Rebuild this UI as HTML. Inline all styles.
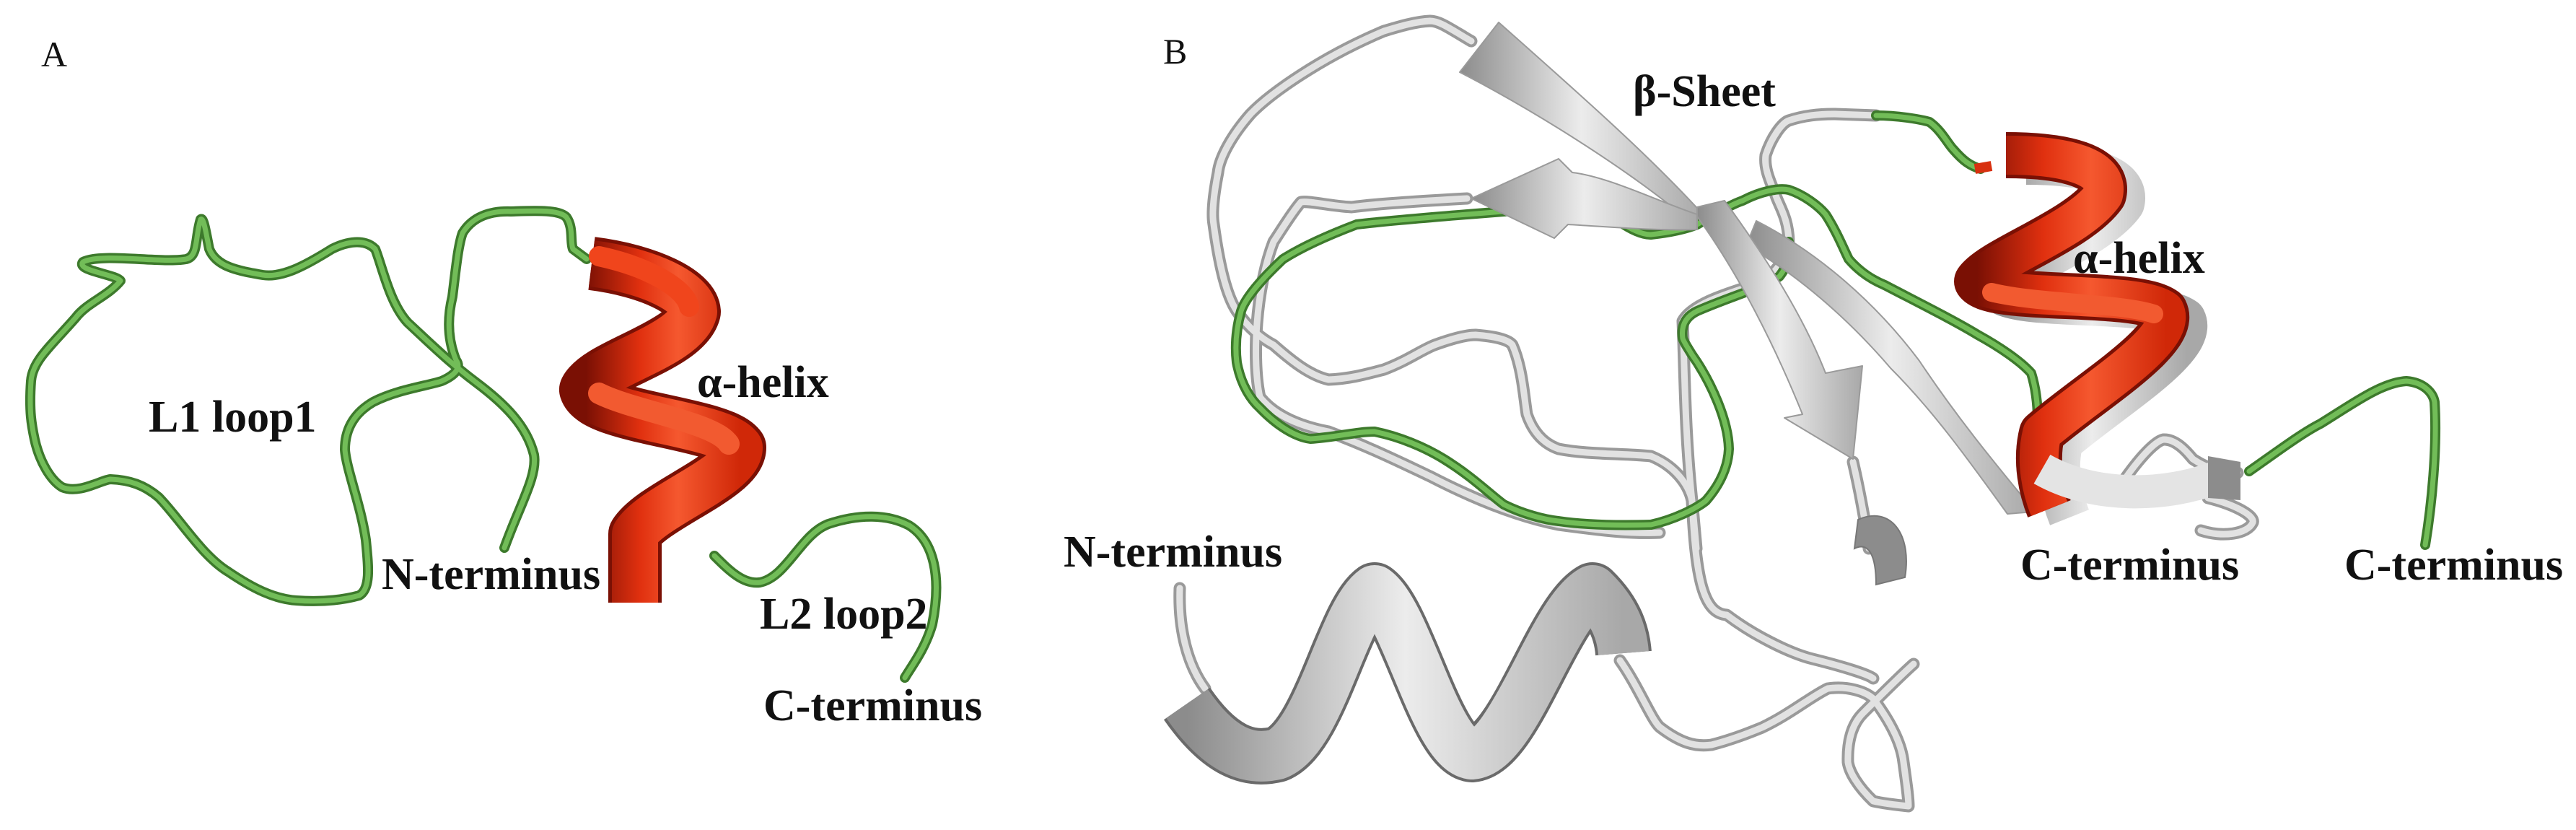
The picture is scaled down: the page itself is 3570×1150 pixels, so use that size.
<!DOCTYPE html>
<html><head><meta charset="utf-8"><style>
html,body{margin:0;padding:0;background:#fff}
svg{display:block}
text{font-family:"Liberation Serif",serif;fill:#111}
.b{font-weight:bold;font-size:62px}
</style></head><body>
<svg width="3570" height="1150" viewBox="0 0 3570 1150" xmlns="http://www.w3.org/2000/svg">
<defs>
<linearGradient id="red" x1="0" y1="0" x2="1" y2="0">
<stop offset="0" stop-color="#7a1004"/><stop offset="0.35" stop-color="#e0300f"/><stop offset="0.6" stop-color="#f5582f"/><stop offset="1" stop-color="#d02808"/></linearGradient>
<linearGradient id="gray" x1="0" y1="0" x2="1" y2="0">
<stop offset="0" stop-color="#8c8c8c"/><stop offset="0.5" stop-color="#ececec"/><stop offset="1" stop-color="#a8a8a8"/></linearGradient>
<path id="ga" d="M699,759 C720,700 745,660 740,630 C730,590 700,560 660,530 C620,500 590,470 565,447 C540,420 530,370 520,345 C505,330 480,335 460,345 C420,370 390,385 364,381 C330,375 300,370 290,345 C285,320 282,300 278,304 C270,330 275,355 258,359 C220,365 140,350 115,363 C105,375 160,380 167,389 C150,410 120,420 105,440 C70,480 45,500 43,528 C40,570 44,590 48,609 C55,640 70,665 86,675 C110,685 140,665 153,664 C180,665 200,672 220,689 C250,720 280,770 316,792 C350,815 380,830 411,832 C450,835 480,830 498,825 C515,815 510,780 507,748 C500,700 480,650 478,623 C478,590 495,570 517,557 C550,540 590,535 612,528 C630,520 640,510 632,499 C620,470 620,440 627,411 C632,370 635,340 641,323 C655,300 680,292 708,293 C740,292 775,290 785,301 C795,315 790,335 794,345 L813,359"/>
<path id="gb" d="M990,770 C1010,790 1030,810 1053,807 C1090,800 1110,740 1148,726 C1190,712 1230,712 1260,728 C1295,750 1305,800 1292,865 C1282,900 1262,925 1254,939"/>
<path id="t1" d="M2039,57 C2010,40 1995,29 1982,29 C1960,30 1935,38 1918,43 C1830,80 1760,130 1733,158 C1705,190 1690,220 1688,239 C1680,280 1680,300 1682,311 C1690,370 1700,410 1714,431 C1730,455 1750,470 1765,478 C1790,500 1815,520 1841,526 C1870,525 1895,518 1918,512 C1950,500 1970,485 1988,478 C2010,470 2030,464 2045,464 C2070,466 2090,470 2096,478 C2110,510 2112,550 2116,574 C2125,600 2140,615 2160,622 C2200,630 2250,628 2288,632 C2320,645 2340,670 2345,694 L2351,760"/>
<path id="t2" d="M2033,275 C1980,278 1910,282 1873,287 C1840,285 1815,278 1803,280 C1790,295 1775,320 1765,335 C1740,400 1735,500 1746,550 C1770,580 1810,592 1841,598 C1900,620 1950,645 1982,660 C2040,690 2100,715 2160,727 C2220,735 2260,740 2300,738"/>
<path id="t3" d="M2332,445 C2345,420 2400,405 2430,395 C2460,383 2475,360 2479,335 C2478,300 2465,285 2460,268 C2450,245 2445,230 2447,215 C2455,190 2470,170 2479,167 C2500,160 2520,158 2543,158 L2600,160"/>
<path id="t4" d="M2332,445 C2335,520 2335,600 2345,694 C2350,800 2360,850 2393,852 C2430,880 2480,905 2512,913 C2560,925 2590,935 2596,940"/>
<path id="t5" d="M2245,915 C2270,950 2290,1000 2301,1008 C2330,1030 2350,1035 2372,1032 C2400,1025 2425,1015 2442,1008 C2480,990 2510,965 2533,954 C2560,950 2585,958 2596,968 C2620,1000 2635,1030 2638,1056 C2642,1085 2645,1105 2645,1117 C2625,1115 2605,1112 2596,1110 C2575,1090 2563,1070 2561,1056 C2560,1020 2570,1000 2582,988 C2610,960 2635,935 2652,920"/>
<path id="t6" d="M1635,815 C1633,870 1645,920 1670,954"/>
<path id="t7" d="M2568,640 C2575,670 2585,720 2590,760"/>
<path id="t8" d="M2935,678 C2960,640 2985,612 2998,609 C3015,608 3030,625 3039,636 C3060,650 3080,655 3101,655"/>
<path id="t9" d="M3060,690 C3100,700 3125,715 3122,724 C3115,740 3080,745 3050,735"/>
<path id="gr1" d="M2122,258 C2115,280 2105,290 2096,292 C2020,298 1930,305 1880,311 C1830,330 1800,345 1778,359 C1745,390 1725,415 1720,431 C1712,460 1712,485 1714,502 C1720,535 1735,555 1746,565 C1770,590 1795,605 1816,608 C1850,606 1880,598 1905,598 C1940,605 1975,620 2001,636 C2040,660 2065,685 2084,699 C2110,712 2140,720 2160,722 C2200,728 2250,728 2288,727 C2320,720 2350,705 2364,694 C2385,670 2395,645 2396,622 C2395,580 2370,530 2352,502 C2340,485 2332,470 2332,469 C2330,455 2333,440 2352,431 C2400,410 2440,400 2466,383 C2480,365 2482,350 2479,335"/>
<path id="gr2" d="M2600,160 C2630,160 2660,165 2674,169 C2690,180 2700,200 2707,207 C2720,222 2730,230 2745,234"/>
<path id="gr3" d="M2243,306 C2260,318 2275,325 2288,325 C2315,322 2335,318 2352,311 C2380,295 2400,283 2415,278 C2440,265 2465,260 2479,263 C2500,270 2520,285 2530,297 C2545,320 2555,345 2562,359 C2580,380 2600,390 2612,395"/>
<path id="gr5" d="M2612,395 C2660,420 2710,445 2741,464 C2770,480 2800,500 2815,517 C2822,540 2824,565 2824,582"/>
<path id="gr4" d="M3117,653 C3150,630 3190,600 3216,587 C3260,560 3300,530 3335,528 C3360,530 3372,545 3374,557 C3378,620 3370,700 3361,755"/>
<path id="hA" d="M820,365 C900,375 960,405 962,432 C950,480 830,505 812,540 C825,580 1000,585 1025,620 C1025,660 905,700 880,740 L880,835"/>
<path id="hB" d="M2780,215 C2860,215 2925,230 2915,270 C2880,320 2760,360 2740,390 C2760,420 2960,400 3000,430 C3020,470 2900,540 2830,600 C2820,640 2830,680 2840,705"/>
<path id="hN" d="M1645,975 C1690,1040 1730,1055 1770,1045 C1830,1020 1860,850 1905,818 C1950,850 1990,1040 2040,1045 C2100,1040 2150,850 2207,818 C2240,850 2248,880 2250,905"/>
</defs>

<!-- Panel A -->
<text x="57" y="92" font-size="50">A</text>
<g fill="none" stroke-linecap="round" stroke-linejoin="round">
<g stroke="#3d7a2c" stroke-width="14"><use href="#ga"/><use href="#gb"/></g>
<g stroke="#72bd58" stroke-width="7"><use href="#ga"/><use href="#gb"/></g>
</g>
<g fill="none" stroke-linejoin="round">
<use href="#hA" stroke="#7a1004" stroke-width="74"/>
<use href="#hA" stroke="url(#red)" stroke-width="64"/>
<path d="M830,355 C900,370 950,400 955,425" stroke="#f0451c" stroke-width="28" stroke-linecap="round"/>
<path d="M830,545 C880,570 990,585 1010,615" stroke="#f25a30" stroke-width="30" stroke-linecap="round"/>
</g>
<text class="b" x="206" y="598">L1 loop1</text>
<text class="b" x="966" y="550">α-helix</text>
<text class="b" x="529" y="816">N-terminus</text>
<text class="b" x="1053" y="871">L2 loop2</text>
<text class="b" x="1058" y="998">C-terminus</text>

<!-- Panel B -->
<text x="1612" y="88" font-size="50">B</text>
<g fill="none" stroke-linecap="round" stroke-linejoin="round">
<g stroke="#9a9a9a" stroke-width="17">
<use href="#t1"/><use href="#t2"/><use href="#t3"/><use href="#t4"/><use href="#t5"/><use href="#t6"/><use href="#t7"/><use href="#t8"/><use href="#t9"/>
</g>
<g stroke="#e2e2e2" stroke-width="9">
<use href="#t1"/><use href="#t2"/><use href="#t3"/><use href="#t4"/><use href="#t5"/><use href="#t6"/><use href="#t7"/><use href="#t8"/><use href="#t9"/>
</g>
<g stroke="#3d7a2c" stroke-width="14">
<use href="#gr1"/><use href="#gr2"/><use href="#gr3"/><use href="#gr4"/><use href="#gr5"/>
</g>
<g stroke="#72bd58" stroke-width="7">
<use href="#gr1"/><use href="#gr2"/><use href="#gr3"/><use href="#gr4"/><use href="#gr5"/>
</g>
</g>
<!-- beta sheet arrows -->
<g stroke="#9a9a9a" stroke-width="2" stroke-linejoin="round">
<path d="M2023,100 L2077,31 C2200,140 2290,220 2360,297 L2340,305 C2250,230 2120,150 2023,100 Z" fill="url(#gray)"/>
<path d="M2434,306 C2520,350 2600,420 2660,500 C2720,590 2780,660 2820,709 L2782,712 C2730,640 2680,570 2620,510 C2560,440 2490,380 2420,340 Z" fill="url(#gray)"/>
<path d="M2352,287 L2390,278 C2450,360 2500,440 2530,517 L2581,507 L2568,636 L2473,579 L2498,574 C2460,480 2410,380 2352,300 Z" fill="url(#gray)"/>
<path d="M2352,297 C2300,280 2230,245 2179,239 L2160,220 L2039,275 L2154,330 L2173,311 C2240,315 2300,320 2352,318 Z" fill="url(#gray)"/>
</g>
<!-- bottom gray helix -->
<g fill="none" stroke-linejoin="round">
<use href="#hN" stroke="#6a6a6a" stroke-width="78"/>
<use href="#hN" stroke="url(#gray)" stroke-width="70"/>
</g>
<path d="M2575,720 C2620,700 2650,740 2640,800 L2600,810 C2600,770 2590,750 2570,760 Z" fill="#8c8c8c" stroke="#777" stroke-width="2"/>
<!-- helix B -->
<g fill="none" stroke-linejoin="round">
<use href="#hB" stroke="url(#gray)" stroke-width="58" transform="translate(28,12)"/>
<use href="#hB" stroke="#7a1004" stroke-width="64"/>
<use href="#hB" stroke="url(#red)" stroke-width="54"/>
<path d="M2760,405 C2820,420 2940,420 2985,435" stroke="#f25a30" stroke-width="26" stroke-linecap="round"/>
<path d="M2830,650 C2900,690 3000,690 3075,660" stroke="#e4e4e4" stroke-width="46"/>
<path d="M2737,234 L2760,230" stroke="#d8300f" stroke-width="14"/>
</g>
<path d="M3060,632 L3105,640 L3105,693 L3060,690 Z" fill="#8c8c8c"/>
<text class="b" x="2263" y="147">β-Sheet</text>
<text class="b" x="2873" y="378">α-helix</text>
<text class="b" x="1474" y="785">N-terminus</text>
<text class="b" x="2800" y="803">C-terminus</text>
<text class="b" x="3249" y="803">C-terminus</text>
</svg>
</body></html>
